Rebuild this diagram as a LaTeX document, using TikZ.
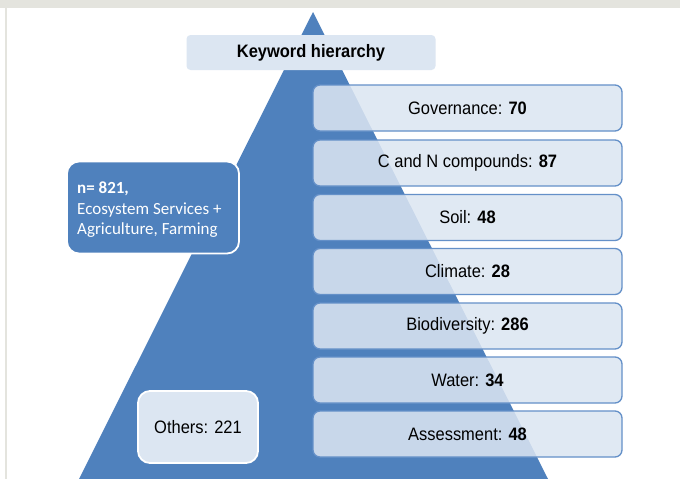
\documentclass[tikz,border=0pt]{standalone}
\usepackage{fontspec}
\setmainfont{Liberation Sans}
\newfontfamily\calib{Carlito}
\definecolor{triblue}{RGB}{79,129,189}
\definecolor{boxfill}{RGB}{220,230,242}
\definecolor{boxline}{RGB}{100,144,200}
\definecolor{framegray}{RGB}{228,228,222}
\newcommand{\nrw}[1]{\scalebox{0.915}[1]{#1}}
\tikzset{
  rowbox/.style={draw=boxline, line width=1.3pt, fill=boxfill, fill opacity=0.86, text opacity=1, rounded corners=7pt, minimum width=309pt, minimum height=46pt, inner sep=0pt, font=\fontsize{18}{21}\selectfont},
  lightbox/.style={draw=white, line width=1.8pt, fill=boxfill, rounded corners=8pt, inner sep=0pt},
  darkbox/.style={draw=white, line width=1.8pt, fill=triblue, rounded corners=12pt, inner sep=0pt}
}
\begin{document}
\begin{tikzpicture}[x=1pt,y=-1pt]
\useasboundingbox (0,0) rectangle (680,479);
\fill[white] (0,0) rectangle (680,479);
\fill[framegray] (0,0) rectangle (680,8);
\draw[framegray, line width=1.2pt] (6,8) -- (6,479);
% pyramid
\fill[triblue] (313,12) -- (548,479) -- (79,479) -- cycle;
% title
\node[lightbox, draw=none, minimum width=249pt, minimum height=35pt, rounded corners=4pt, font=\fontsize{18}{21}\selectfont\bfseries] (title) at (311,52.5) {\nrw{Keyword hierarchy}};
% left boxes
\node[darkbox, minimum width=172pt, minimum height=92pt] (nbox) at (153,207.5) {};
\node[anchor=north west, align=left, text=white, inner sep=0pt, font=\calib\fontsize{17}{20.5}\selectfont] (ntext) at (77,182) {\textbf{n= 821,}\\Ecosystem Services +\\Agriculture, Farming};
\node[lightbox, minimum width=120pt, minimum height=72pt, rounded corners=12pt, font=\fontsize{18}{21}\selectfont] (others) at (198,427) {\nrw{Others: 221}};
% right rows
\node[rowbox] (r1) at (467.5,108) {\nrw{Governance: \textbf{70}}};
\node[rowbox] (r2) at (467.5,163) {\nrw{C and N compounds: \textbf{87}}};
\node[rowbox] (r3) at (467.5,217.5) {\nrw{Soil: \textbf{48}}};
\node[rowbox] (r4) at (467.5,271.5) {\nrw{Climate: \textbf{28}}};
\node[rowbox] (r5) at (467.5,326) {\nrw{Biodiversity: \textbf{286}}};
\node[rowbox] (r6) at (467.5,380) {\nrw{Water: \textbf{34}}};
\node[rowbox] (r7) at (467.5,434) {\nrw{Assessment: \textbf{48}}};
\end{tikzpicture}
\end{document}
